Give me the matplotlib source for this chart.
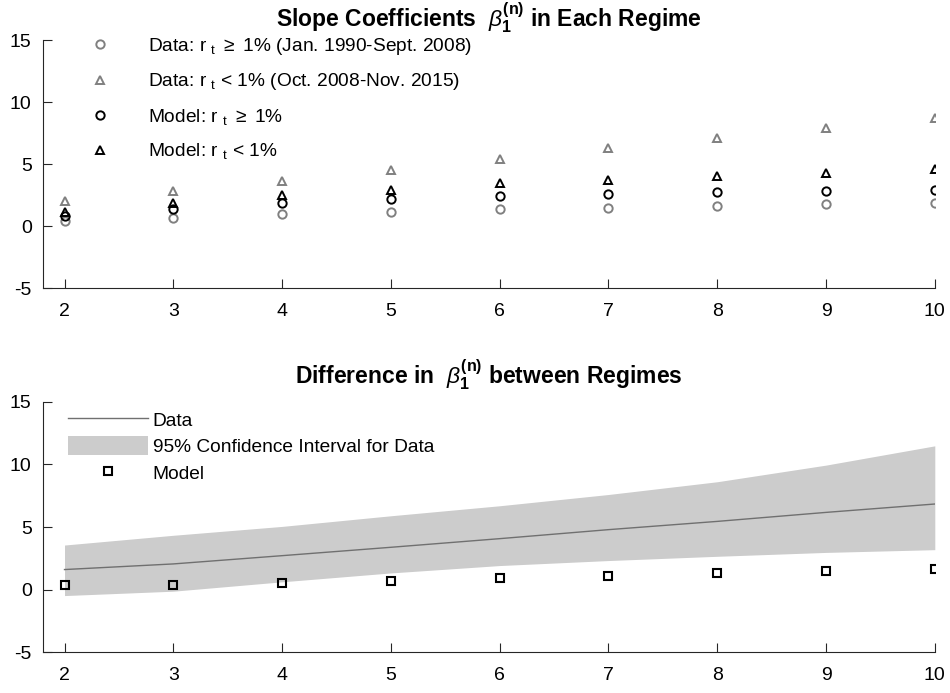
import matplotlib
matplotlib.use("Agg")
import matplotlib.pyplot as plt
from matplotlib.patches import Patch
from matplotlib.lines import Line2D

plt.rcParams['font.family'] = ['Liberation Sans', 'DejaVu Sans']
plt.rcParams['mathtext.fontset'] = 'custom'
plt.rcParams['mathtext.rm'] = 'Liberation Sans'
plt.rcParams['mathtext.it'] = 'Liberation Sans:italic'
plt.rcParams['mathtext.bf'] = 'Liberation Sans:bold'
plt.rcParams['mathtext.sf'] = 'Liberation Sans'

# ---- data ----
maturity = [2, 3, 4, 5, 6, 7, 8, 9, 10]
data_high = [0.42, 0.69, 1.01, 1.17, 1.36, 1.49, 1.63, 1.76, 1.90]
data_low = [2.03, 2.83, 3.68, 4.56, 5.41, 6.29, 7.15, 7.90, 8.70]
model_high = [0.83, 1.41, 1.89, 2.21, 2.48, 2.64, 2.75, 2.83, 2.96]
model_low = [1.15, 1.85, 2.50, 2.95, 3.45, 3.72, 4.05, 4.32, 4.65]

diff_data = [1.60, 2.05, 2.71, 3.38, 4.07, 4.79, 5.45, 6.17, 6.84]
ci_upper = [3.56, 4.34, 5.05, 5.90, 6.70, 7.60, 8.62, 9.95, 11.49]
ci_lower = [-0.48, -0.13, 0.62, 1.33, 1.92, 2.32, 2.66, 2.97, 3.19]
diff_model = [0.35, 0.40, 0.53, 0.72, 0.90, 1.12, 1.30, 1.52, 1.68]

xticks = [2, 3, 4, 5, 6, 7, 8, 9, 10]
yticks = [-5, 0, 5, 10, 15]

GRAY = '#808080'
AXC = '#262626'

fig = plt.figure(figsize=(9.5, 6.93), dpi=100)
ax1 = fig.add_axes([0.045, 0.584, 0.939, 0.358])
ax2 = fig.add_axes([0.045, 0.059, 0.939, 0.361])


def style(ax):
    ax.set_xlim(1.8, 10)
    ax.set_ylim(-5, 15)
    ax.set_xticks(xticks)
    ax.set_yticks(yticks)
    ax.set_yticklabels([str(v) for v in yticks])
    for s in ['top', 'right']:
        ax.spines[s].set_visible(False)
    for s in ['left', 'bottom']:
        ax.spines[s].set_color(AXC)
        ax.spines[s].set_linewidth(0.8)
    ax.tick_params(direction='in', length=6.5, width=0.8, colors=AXC,
                   labelsize=14, labelcolor='black')
    ax.tick_params(axis='x', pad=10.5)
    ax.tick_params(axis='y', pad=8)


style(ax1)
style(ax2)

ms = 6
mew = 1.4
ax1.plot(maturity, data_high, 'o', ls='none', mfc='none', mec=GRAY, ms=ms, mew=mew,
         label=r'Data: r $_\mathrm{t}$ $\geq$ 1% (Jan. 1990-Sept. 2008)')
ax1.plot(maturity, data_low, '^', ls='none', mfc='none', mec=GRAY, ms=ms, mew=mew,
         label=r'Data: r $_\mathrm{t}$ < 1% (Oct. 2008-Nov. 2015)')
ax1.plot(maturity, model_high, 'o', ls='none', mfc='none', mec='black', ms=ms, mew=mew,
         label=r'Model: r $_\mathrm{t}$ $\geq$ 1%')
ax1.plot(maturity, model_low, '^', ls='none', mfc='none', mec='black', ms=ms, mew=mew,
         label=r'Model: r $_\mathrm{t}$ < 1%')
ax1.set_title(r'Slope Coefficients  $\beta_\mathbf{1}^\mathbf{(n)}$ in Each Regime',
              fontsize=16.5, fontweight='bold', pad=10)
ax1.legend(loc='upper left', bbox_to_anchor=(0.0426, 1.018), frameon=False,
           fontsize=13.8, numpoints=1, handlelength=2.0, handletextpad=1.5,
           labelspacing=0.76, borderpad=0, borderaxespad=0)

ax2.fill_between(maturity, ci_lower, ci_upper, color='#cccccc', lw=0)
ax2.plot(maturity, diff_data, color='#707070', lw=1.0)
ax2.plot(maturity, diff_model, 's', ls='none', mfc='none', mec='black', ms=6, mew=1.5)
ax2.set_title(r'Difference in  $\beta_\mathbf{1}^\mathbf{(n)}$ between Regimes',
              fontsize=16.5, fontweight='bold', pad=13)
handles = [Line2D([], [], color='#707070', lw=1.0),
           Patch(facecolor='#cccccc', edgecolor='none'),
           Line2D([], [], marker='s', ls='none', mfc='none', mec='black', ms=6, mew=1.5)]
labels = ['Data', '95% Confidence Interval for Data', 'Model']
ax2.legend(handles, labels, loc='upper left', bbox_to_anchor=(0.028, 0.968), frameon=False,
           fontsize=13.8, numpoints=1, handlelength=4.17, handleheight=1.15,
           handletextpad=0.26, labelspacing=0.33, borderpad=0, borderaxespad=0)

fig.savefig('out.png', dpi=100)
